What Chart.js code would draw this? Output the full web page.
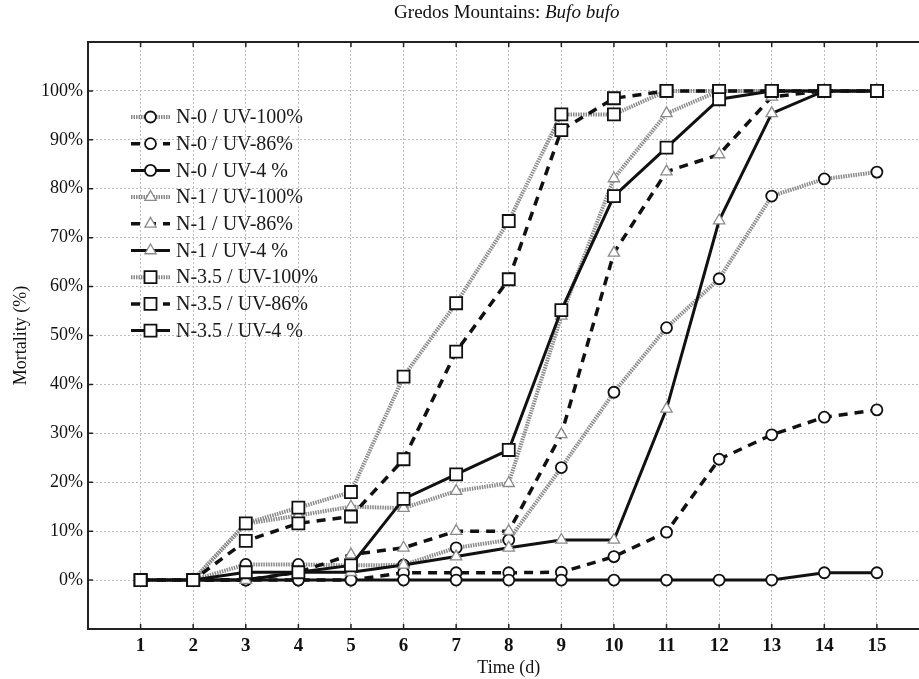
<!DOCTYPE html>
<html>
<head>
<meta charset="utf-8">
<script src="https://cdn.jsdelivr.net/npm/chart.js@4/dist/chart.umd.min.js"></script>
<style>
  html, body { margin: 0; padding: 0; background: #fff; overflow: hidden; }
  #wrap { width: 940px; height: 679px; position: relative; }
</style>
</head>
<body>
<div id="wrap"><canvas id="chart"></canvas></div>
<script>
// days on the x axis
const days = [1, 2, 3, 4, 5, 6, 7, 8, 9, 10, 11, 12, 13, 14, 15];
const yTicks = [0, 10, 20, 30, 40, 50, 60, 70, 80, 90, 100];

// mortality (%) per treatment
const n0uv100  = [0, 0, 3.2, 3.2, 3, 3.1, 6.6, 8.2, 23, 38.4, 51.6, 61.6, 78.5, 82, 83.4];
const n0uv86   = [0, 0, 0, 0, 0, 1.5, 1.5, 1.5, 1.6, 4.8, 9.8, 24.7, 29.7, 33.3, 34.8];
const n0uv4    = [0, 0, 0, 0, 0, 0, 0, 0, 0, 0, 0, 0, 0, 1.5, 1.5];
const n1uv100  = [0, 0, 11.5, 13.2, 15, 14.7, 18.2, 19.8, 54, 82.1, 95.4, 100, 100, 100, 100];
const n1uv86   = [0, 0, 0, 1.6, 5.2, 6.6, 10, 10, 29.8, 66.9, 83.5, 87, 98.8, 100, 100];
const n1uv4    = [0, 0, 0, 1.6, 1.6, 3.1, 4.8, 6.6, 8.2, 8.2, 35, 73.5, 95.4, 100, 100];
const n35uv100 = [0, 0, 11.6, 14.8, 18, 41.6, 56.6, 73.4, 95.2, 95.2, 100, 100, 100, 100, 100];
const n35uv86  = [0, 0, 8, 11.6, 13, 24.7, 46.7, 61.5, 92, 98.5, 100, 100, 100, 100, 100];
const n35uv4   = [0, 0, 1.6, 1.6, 3, 16.6, 21.6, 26.6, 55.2, 78.5, 88.4, 98.3, 100, 100, 100];

const seriesLabels = [
  'N-0 / UV-100%', 'N-0 / UV-86%', 'N-0 / UV-4 %',
  'N-1 / UV-100%', 'N-1 / UV-86%', 'N-1 / UV-4 %',
  'N-3.5 / UV-100%', 'N-3.5 / UV-86%', 'N-3.5 / UV-4 %'
];
const seriesData = [n0uv100, n0uv86, n0uv4, n1uv100, n1uv86, n1uv4, n35uv100, n35uv86, n35uv4];

const SERIF = '"Liberation Serif", "Times New Roman", serif';

// line look by UV level, marker by N level
const lineStyles = [
  { color: '#8a8a8a', width: 4, dash: [1.5, 1] },   // UV-100%
  { color: '#111', width: 3.5, dash: [9, 7] },       // UV-86%
  { color: '#111', width: 3, dash: [] }              // UV-4 %
];
const markers = [
  { style: 'circle', radius: 5.5, border: '#111', bw: 1.8 },
  { style: 'triangle', radius: 6.5, border: '#8a8a8a', bw: 1.3 },
  { style: 'rect', radius: 8.5, border: '#111', bw: 1.8 }
];

const datasets = seriesData.map((arr, i) => {
  const ls = lineStyles[i % 3];
  const mk = markers[Math.floor(i / 3)];
  return {
    label: seriesLabels[i],
    data: days.map((d, j) => ({ x: d, y: arr[j] })),
    borderColor: ls.color,
    borderWidth: ls.width,
    borderDash: ls.dash,
    pointStyle: mk.style,
    pointRadius: mk.radius,
    pointBorderColor: mk.border,
    pointBorderWidth: mk.bw,
    pointBackgroundColor: '#fff',
    tension: 0,
    order: 8 - i
  };
});

function drawMarker(ctx, mk, x, y) {
  ctx.save();
  ctx.setLineDash([]);
  ctx.fillStyle = '#fff';
  ctx.strokeStyle = mk.border;
  ctx.lineWidth = mk.bw;
  ctx.beginPath();
  if (mk.style === 'circle') {
    ctx.arc(x, y, mk.radius, 0, Math.PI * 2);
  } else if (mk.style === 'rect') {
    const s = mk.radius * Math.SQRT1_2;
    ctx.rect(x - s, y - s, 2 * s, 2 * s);
  } else {
    const r = mk.radius;
    ctx.moveTo(x, y - r);
    ctx.lineTo(x + r * 0.866, y + r * 0.5);
    ctx.lineTo(x - r * 0.866, y + r * 0.5);
    ctx.closePath();
  }
  ctx.fill();
  ctx.stroke();
  ctx.restore();
}

const decor = {
  id: 'decor',
  afterDraw(chart) {
    const { ctx, chartArea: a, scales } = chart;
    const x = scales.x, y = scales.y;
    ctx.save();

    // frame (no right side, it is off the page)
    ctx.strokeStyle = '#222';
    ctx.lineWidth = 2;
    ctx.beginPath();
    ctx.moveTo(a.right + 5, a.top);
    ctx.lineTo(a.left, a.top);
    ctx.lineTo(a.left, a.bottom);
    ctx.lineTo(a.right + 5, a.bottom);
    ctx.stroke();

    // small inward ticks
    ctx.lineWidth = 1.5;
    ctx.beginPath();
    days.forEach(d => {
      const px = x.getPixelForValue(d);
      ctx.moveTo(px, a.bottom); ctx.lineTo(px, a.bottom - 5);
      ctx.moveTo(px, a.top); ctx.lineTo(px, a.top + 5);
    });
    yTicks.forEach(v => {
      const py = y.getPixelForValue(v);
      ctx.moveTo(a.left, py); ctx.lineTo(a.left + 5, py);
    });
    ctx.stroke();

    // title with italic species name
    const cx = (a.left + a.right) / 2;
    const t1 = 'Gredos Mountains: ';
    const t2 = 'Bufo bufo';
    ctx.fillStyle = '#111';
    ctx.textBaseline = 'middle';
    ctx.font = '19px ' + SERIF;
    const w1 = ctx.measureText(t1).width;
    ctx.font = 'italic 19px ' + SERIF;
    const w2 = ctx.measureText(t2).width;
    let sx = cx - (w1 + w2) / 2 - 2;
    ctx.textAlign = 'left';
    ctx.font = '19px ' + SERIF;
    ctx.fillText(t1, sx, 13);
    ctx.font = 'italic 19px ' + SERIF;
    ctx.fillText(t2, sx + w1, 13);

    // axis titles
    ctx.font = '18px ' + SERIF;
    ctx.textAlign = 'center';
    ctx.fillText('Time (d)', cx, 668);
    ctx.save();
    ctx.translate(21, (a.top + a.bottom) / 2);
    ctx.rotate(-Math.PI / 2);
    ctx.fillText('Mortality (%)', 0, 0);
    ctx.restore();

    // legend inside the plot
    chart.data.datasets.forEach((ds, i) => {
      const yy = 117 + i * 26.7;
      ctx.save();
      ctx.strokeStyle = ds.borderColor;
      ctx.lineWidth = ds.borderWidth;
      ctx.setLineDash(ds.borderDash || []);
      ctx.beginPath();
      ctx.moveTo(131, yy);
      ctx.lineTo(170, yy);
      ctx.stroke();
      ctx.restore();
      drawMarker(ctx, markers[Math.floor(i / 3)], 150.5, yy);
      ctx.fillStyle = '#1a1a1a';
      ctx.font = '20px ' + SERIF;
      ctx.textAlign = 'left';
      ctx.textBaseline = 'middle';
      ctx.fillText(ds.label, 176, yy + 1);
    });

    ctx.restore();
  }
};

new Chart(document.getElementById('chart'), {
  type: 'line',
  data: { datasets: datasets },
  options: {
    responsive: true,
    maintainAspectRatio: false,
    animation: false,
    layout: { padding: { top: 42, right: 10.5, left: 0, bottom: 0 } },
    plugins: {
      legend: { display: false },
      tooltip: { enabled: false },
      title: { display: false }
    },
    scales: {
      x: {
        type: 'linear',
        min: 0,
        max: 16,
        afterFit: s => { s.height = 50; },
        afterBuildTicks: s => { s.ticks = days.map(v => ({ value: v })); },
        ticks: {
          color: '#111',
          padding: 6,
          font: { family: SERIF, size: 19, weight: 'bold' },
          callback: v => String(v)
        },
        grid: { color: '#bdbdbd', lineWidth: 1, drawTicks: false },
        border: { display: false, dash: [2, 2] }
      },
      y: {
        type: 'linear',
        min: -10,
        max: 110,
        afterFit: s => { s.width = 88; },
        afterBuildTicks: s => { s.ticks = yTicks.map(v => ({ value: v })); },
        ticks: {
          color: '#111',
          padding: 5,
          font: { family: SERIF, size: 18 },
          callback: v => v + '%'
        },
        grid: { color: '#bdbdbd', lineWidth: 1, drawTicks: false },
        border: { display: false, dash: [2, 2] }
      }
    }
  },
  plugins: [decor]
});
</script>
</body>
</html>
